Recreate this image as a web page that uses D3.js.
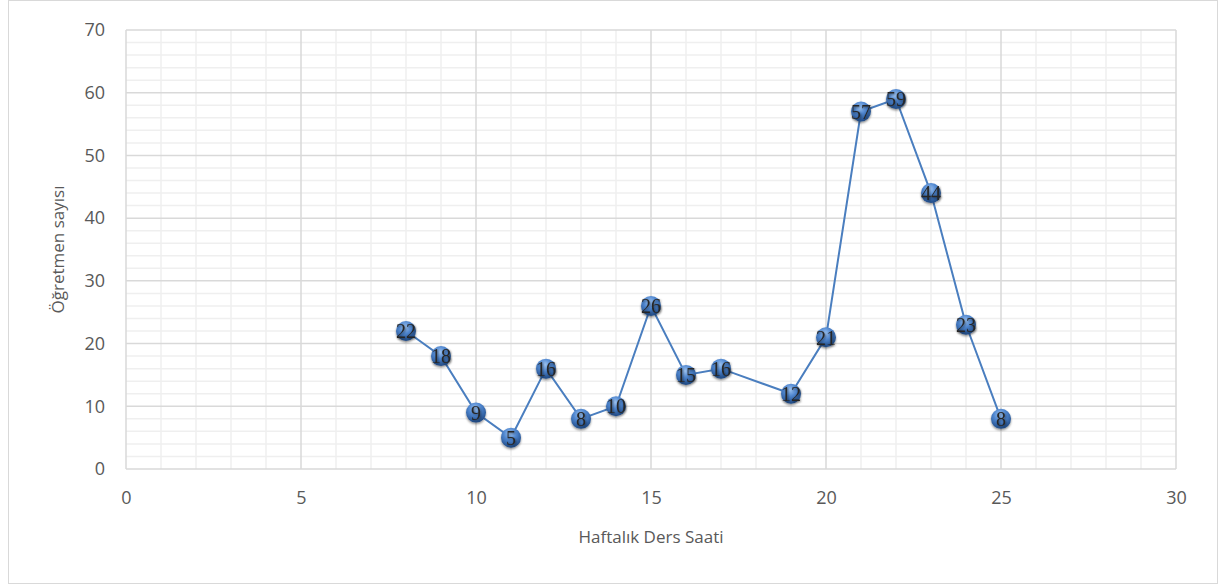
<!DOCTYPE html>
<html>
<head>
<meta charset="utf-8">
<script src="https://cdn.jsdelivr.net/npm/d3@7"></script>
<style>
  html, body { margin: 0; padding: 0; background: #fff; }
  svg { display: block; }
</style>
</head>
<body>
<svg id="chart" width="1219" height="585"></svg>
<script>
// Weekly lesson hours vs. number of teachers
const hours    = [8, 9, 10, 11, 12, 13, 14, 15, 16, 17, 19, 20, 21, 22, 23, 24, 25];
const teachers = [22, 18, 9, 5, 16, 8, 10, 26, 15, 16, 12, 21, 57, 59, 44, 23, 8];
const xTicks = [0, 5, 10, 15, 20, 25, 30];
const yTicks = [0, 10, 20, 30, 40, 50, 60, 70];
const xTitle = "Haftalık Ders Saati";
const yTitle = "Öğretmen sayısı";

const svg = d3.select("#chart");
const W = 1219, H = 585;
const plot = { left: 126, right: 1176, top: 30, bottom: 469 };

// outer chart frame
svg.append("rect")
  .attr("x", 8.5).attr("y", 0.5).attr("width", W - 10).attr("height", H - 2)
  .attr("fill", "#fff").attr("stroke", "#d9d9d9").attr("stroke-width", 1);

const x = d3.scaleLinear().domain([0, 30]).range([plot.left, plot.right]);
const y = d3.scaleLinear().domain([0, 70]).range([plot.bottom, plot.top]);

// minor gridlines
const grid = svg.append("g");
grid.selectAll(".vx").data(d3.range(0, 31, 1).filter(v => v % 5 !== 0)).join("line")
  .attr("x1", d => x(d)).attr("x2", d => x(d))
  .attr("y1", plot.top).attr("y2", plot.bottom)
  .attr("stroke", "#efefef").attr("stroke-width", 1.5);
grid.selectAll(".hy").data(d3.range(0, 71, 2).filter(v => v % 10 !== 0)).join("line")
  .attr("x1", plot.left).attr("x2", plot.right)
  .attr("y1", d => y(d)).attr("y2", d => y(d))
  .attr("stroke", "#efefef").attr("stroke-width", 1.5);
// major gridlines
grid.selectAll(".mx").data(xTicks).join("line")
  .attr("x1", d => x(d)).attr("x2", d => x(d))
  .attr("y1", plot.top).attr("y2", plot.bottom)
  .attr("stroke", "#d9d9d9").attr("stroke-width", 1.5);
grid.selectAll(".my").data(yTicks).join("line")
  .attr("x1", plot.left).attr("x2", plot.right)
  .attr("y1", d => y(d)).attr("y2", d => y(d))
  .attr("stroke", "#d9d9d9").attr("stroke-width", 1.5);

// axes (tick labels only)
const fontFam = "'Open Sans', 'Liberation Sans', sans-serif";
const xAxis = svg.append("g").attr("transform", `translate(0,${plot.bottom})`)
  .call(d3.axisBottom(x).tickValues(xTicks).tickSize(0).tickPadding(22));
const yAxis = svg.append("g").attr("transform", `translate(${plot.left},0)`)
  .call(d3.axisLeft(y).tickValues(yTicks).tickSize(0).tickPadding(21));
[xAxis, yAxis].forEach(a => {
  a.select(".domain").remove();
  a.selectAll("text").attr("fill", "#595959")
    .style("font-family", fontFam).style("font-size", "18px");
});

// axis titles
svg.append("text").attr("x", (plot.left + plot.right) / 2).attr("y", 543)
  .attr("text-anchor", "middle").attr("fill", "#595959")
  .style("font-family", fontFam).style("font-size", "17px").text(xTitle);
svg.append("text")
  .attr("transform", `translate(64,${(plot.top + plot.bottom) / 2}) rotate(-90)`)
  .attr("text-anchor", "middle").attr("fill", "#595959")
  .style("font-family", fontFam).style("font-size", "17px").text(yTitle);

// data
const pts = hours.map((h, i) => ({ h, v: teachers[i] }));
svg.append("path").datum(pts)
  .attr("fill", "none").attr("stroke", "#4a7ebf").attr("stroke-width", 2)
  .attr("d", d3.line().x(d => x(d.h)).y(d => y(d.v)));

// glossy marker gradient
const defs = svg.append("defs");
const grad = defs.append("radialGradient").attr("id", "ball")
  .attr("cx", "45%").attr("cy", "30%").attr("r", "70%");
grad.append("stop").attr("offset", "0%").attr("stop-color", "#9cc3f2");
grad.append("stop").attr("offset", "45%").attr("stop-color", "#4f86cf");
grad.append("stop").attr("offset", "100%").attr("stop-color", "#1f4a86");
const sh = defs.append("filter").attr("id", "shadow")
  .attr("x", "-50%").attr("y", "-50%").attr("width", "200%").attr("height", "200%");
sh.append("feDropShadow").attr("dx", 0).attr("dy", 1.5).attr("stdDeviation", 1.2)
  .attr("flood-color", "#000").attr("flood-opacity", 0.45);
const glow = defs.append("filter").attr("id", "glow")
  .attr("x", "-30%").attr("y", "-30%").attr("width", "160%").attr("height", "160%");
glow.append("feGaussianBlur").attr("in", "SourceAlpha").attr("stdDeviation", 0.8).attr("result", "b");
glow.append("feOffset").attr("in", "b").attr("dx", 0.6).attr("dy", 0.6).attr("result", "o");
glow.append("feFlood").attr("flood-color", "#000").attr("flood-opacity", 0.5);
glow.append("feComposite").attr("in2", "o").attr("operator", "in").attr("result", "s");
const gm = glow.append("feMerge");
gm.append("feMergeNode").attr("in", "s");
gm.append("feMergeNode").attr("in", "SourceGraphic");

const marks = svg.append("g").selectAll("g").data(pts).join("g")
  .attr("transform", d => `translate(${x(d.h)},${y(d.v)})`);
marks.append("circle").attr("r", 10)
  .attr("fill", "url(#ball)").attr("filter", "url(#shadow)");

// value labels
marks.append("text").attr("text-anchor", "middle").attr("dy", "0.36em")
  .attr("fill", "#262626").attr("filter", "url(#glow)")
  .style("font-family", "'Liberation Serif', 'DejaVu Serif', serif")
  .style("font-size", "20px").text(d => d.v);
</script>
</body>
</html>
